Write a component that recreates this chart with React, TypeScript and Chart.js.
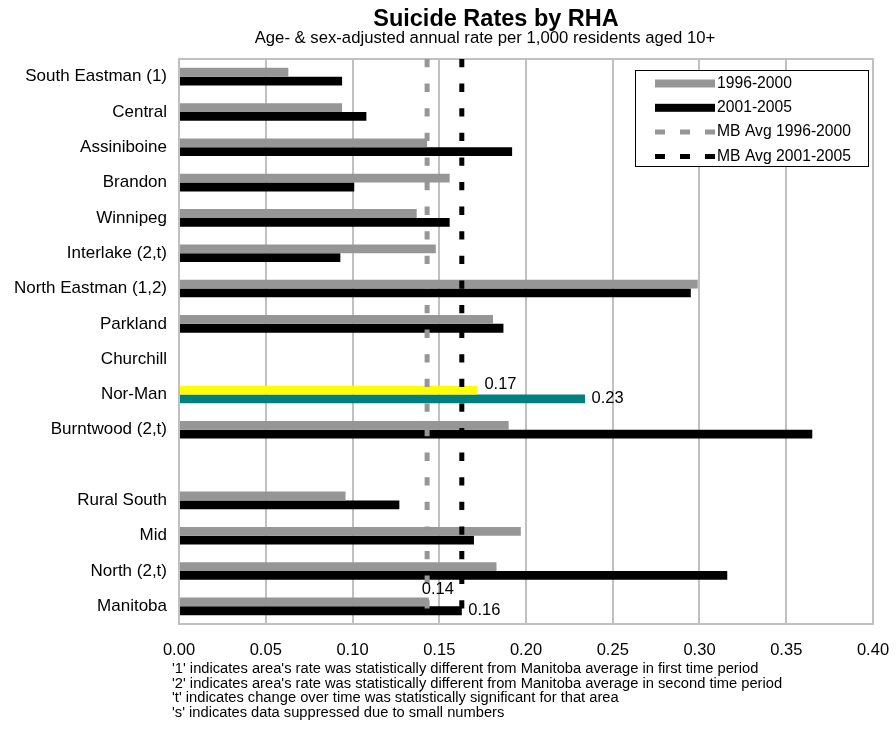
import React, { useEffect, useRef } from "react";
import { Chart, registerables } from "chart.js";

Chart.register(...registerables);

const FONT = "'Liberation Sans', Arial, sans-serif";

const categories = [
  "South Eastman (1)",
  "Central",
  "Assiniboine",
  "Brandon",
  "Winnipeg",
  "Interlake (2,t)",
  "North Eastman (1,2)",
  "Parkland",
  "Churchill",
  "Nor-Man",
  "Burntwood (2,t)",
  "",
  "Rural South",
  "Mid",
  "North (2,t)",
  "Manitoba",
];

const rate1996_2000 = [0.063, 0.094, 0.143, 0.156, 0.137, 0.148, 0.299, 0.181, null, 0.172, 0.19, null, 0.096, 0.197, 0.183, 0.144];
const rate2001_2005 = [0.094, 0.108, 0.192, 0.101, 0.156, 0.093, 0.295, 0.187, null, 0.234, 0.365, null, 0.127, 0.17, 0.316, 0.163];

const mbAvg1996_2000 = 0.143;
const mbAvg2001_2005 = 0.163;

const xTickValues = [0, 0.05, 0.1, 0.15, 0.2, 0.25, 0.3, 0.35, 0.4];

const seriesLabels = ["1996-2000", "2001-2005", "MB Avg 1996-2000", "MB Avg 2001-2005"];

const titleText = "Suicide Rates by RHA";
const subtitleText = "Age- & sex-adjusted annual rate per 1,000 residents aged 10+";
const footnotes = [
  "'1' indicates area's rate was statistically different from Manitoba average in first time period",
  "'2' indicates area's rate was statistically different from Manitoba average in second time period",
  "'t' indicates change over time was statistically significant for that area",
  "'s' indicates data suppressed due to small numbers",
];

const highlightCategory = "Nor-Man";
const labeledCategories = ["Nor-Man", "Manitoba"];

const GRAY = "#969696";
const BLACK = "#000000";
const YELLOW = "#ffff00";
const TEAL = "#008080";
const GRID = "#c0c0c0";

const averageLines = [
  { value: mbAvg1996_2000, color: GRAY },
  { value: mbAvg2001_2005, color: BLACK },
];

const decorPlugin = {
  id: "decor",
  beforeDatasetsDraw(chart: any) {
    const { ctx, chartArea } = chart;
    ctx.save();
    ctx.strokeStyle = GRID;
    ctx.lineWidth = 2;
    ctx.beginPath();
    ctx.moveTo(chartArea.left - 1, chartArea.top);
    ctx.lineTo(chartArea.right + 1, chartArea.top);
    ctx.stroke();
    ctx.restore();
  },
  afterDatasetsDraw(chart: any) {
    const { ctx, chartArea } = chart;
    const xScale = chart.scales.x;
    // Manitoba average reference lines
    ctx.save();
    ctx.beginPath();
    ctx.rect(chartArea.left, chartArea.top, chartArea.right - chartArea.left, chartArea.bottom - chartArea.top);
    ctx.clip();
    ctx.lineWidth = 5;
    ctx.lineCap = "butt";
    ctx.setLineDash([8.3, 16.3]);
    averageLines.forEach((l) => {
      const px = xScale.getPixelForValue(l.value);
      ctx.strokeStyle = l.color;
      ctx.beginPath();
      ctx.moveTo(px, chartArea.top);
      ctx.lineTo(px, chartArea.bottom);
      ctx.stroke();
    });
    ctx.restore();

    // value labels
    ctx.save();
    ctx.fillStyle = "#000";
    ctx.font = `16.5px ${FONT}`;
    ctx.textBaseline = "middle";
    for (let d = 0; d < 2; d++) {
      const meta = chart.getDatasetMeta(d);
      const values = chart.data.datasets[d].data;
      labeledCategories.forEach((cat) => {
        const i = categories.indexOf(cat);
        const v = values[i];
        const el = meta.data[i];
        if (v == null || !el) return;
        const txt = Number(v).toFixed(2);
        if (cat === "Manitoba" && d === 0) {
          ctx.textAlign = "center";
          ctx.fillText(txt, el.x + 9, el.y - 12);
        } else if (cat === "Nor-Man" && d === 0) {
          ctx.textAlign = "left";
          ctx.fillText(txt, el.x + 7, el.y - 6);
        } else {
          ctx.textAlign = "left";
          ctx.fillText(txt, el.x + 6.5, el.y);
        }
      });
    }
    ctx.restore();
  },
  afterDraw(chart: any) {
    const { ctx } = chart;
    ctx.save();
    ctx.fillStyle = "#000";
    ctx.textBaseline = "middle";
    ctx.textAlign = "center";
    ctx.font = `bold 23.5px ${FONT}`;
    ctx.fillText(titleText, 496, 20);
    ctx.font = `16.7px ${FONT}`;
    ctx.fillText(subtitleText, 485, 38.5);

    // footnotes (slightly condensed look, as in the source)
    ctx.textAlign = "left";
    ctx.font = `13.8px ${FONT}`;
    footnotes.forEach((t, i) => {
      ctx.save();
      ctx.translate(172, 669 + i * 14.8);
      ctx.scale(1.065, 1);
      ctx.fillText(t, 0, 0);
      ctx.restore();
    });

    // legend
    const bx = 635.5, by = 70.5, bw = 233, bh = 96;
    ctx.fillStyle = "#fff";
    ctx.fillRect(bx, by, bw, bh);
    ctx.strokeStyle = "#000";
    ctx.lineWidth = 1;
    ctx.strokeRect(bx, by, bw, bh);
    const colors = [GRAY, BLACK, GRAY, BLACK];
    seriesLabels.forEach((lab, i) => {
      const y = 83.5 + i * 24.3;
      if (i >= 2) {
        ctx.strokeStyle = colors[i];
        ctx.lineWidth = 5;
        ctx.setLineDash([10, 15]);
        ctx.beginPath();
        ctx.moveTo(655, y);
        ctx.lineTo(715, y);
        ctx.stroke();
        ctx.setLineDash([]);
      } else {
        ctx.fillStyle = colors[i];
        ctx.fillRect(655, y - 4, 60, 8);
      }
      ctx.fillStyle = "#000";
      ctx.font = `15.7px ${FONT}`;
      ctx.fillText(lab, 717, y);
    });
    ctx.restore();
  },
};

export default function App() {
  const ref = useRef<HTMLCanvasElement>(null);

  useEffect(() => {
    if (!ref.current) return;
    const chart = new Chart(ref.current, {
      type: "bar",
      data: {
        labels: categories,
        datasets: [
          {
            label: seriesLabels[0],
            data: rate1996_2000,
            backgroundColor: categories.map((c) => (c === highlightCategory ? YELLOW : GRAY)),
            barPercentage: 1,
            categoryPercentage: 0.5,
          },
          {
            label: seriesLabels[1],
            data: rate2001_2005,
            backgroundColor: categories.map((c) => (c === highlightCategory ? TEAL : BLACK)),
            barPercentage: 1,
            categoryPercentage: 0.5,
          },
        ] as any,
      },
      options: {
        indexAxis: "y",
        animation: false,
        responsive: false,
        devicePixelRatio: 1,
        layout: { autoPadding: false, padding: { top: 59, left: 0, right: 23, bottom: 71 } },
        plugins: {
          legend: { display: false },
          title: { display: false },
          tooltip: { enabled: false },
        },
        scales: {
          x: {
            type: "linear",
            position: "bottom",
            min: 0,
            max: 0.4,
            afterBuildTicks: (scale: any) => {
              scale.ticks = xTickValues.map((v) => ({ value: v }));
            },
            afterFit: (scale: any) => {
              scale.height = 40;
            },
            grid: { color: GRID, lineWidth: 2, drawTicks: true, tickLength: 17, tickColor: "rgba(0,0,0,0)" },
            border: { color: GRID, width: 2 },
            ticks: {
              color: "#000",
              padding: 0,
              font: { family: FONT, size: 16.5 },
              callback: (v: any) => Number(v).toFixed(2),
            },
          },
          y: {
            type: "category",
            position: "left",
            afterFit: (scale: any) => {
              scale.width = 179;
            },
            grid: { display: false, drawTicks: false },
            border: { color: GRID, width: 2 },
            ticks: {
              color: "#000",
              padding: 12,
              font: { family: FONT, size: 17 },
              autoSkip: false,
            },
          },
        },
      } as any,
      plugins: [decorPlugin],
    });
    return () => chart.destroy();
  }, []);

  return (
    <div style={{ position: "fixed", left: 0, top: 0, width: 896, height: 735, background: "#fff" }}>
      <canvas ref={ref} width={896} height={735} style={{ display: "block" }} />
    </div>
  );
}
